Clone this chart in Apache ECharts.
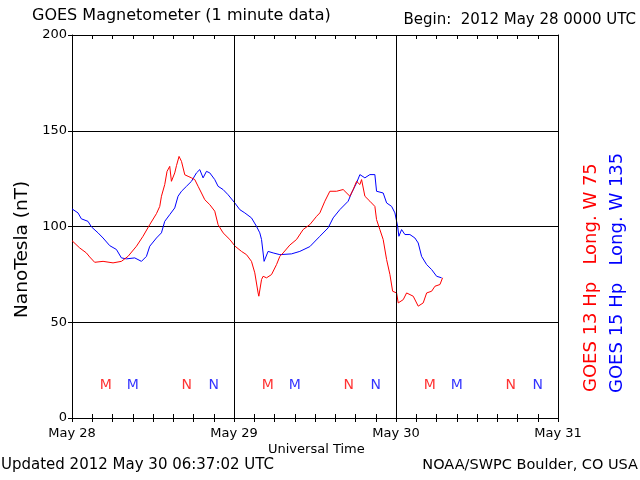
<!DOCTYPE html>
<html>
<head>
<meta charset="utf-8">
<script src="https://cdn.jsdelivr.net/npm/echarts@6/dist/echarts.min.js"></script>
<style>html,body{margin:0;padding:0;background:#fff}#c{width:640px;height:480px}</style>
</head>
<body>
<div id="c"></div>
<script>
// Hours since 2012 May 28 00:00 UTC
var dayLabels = ['May 28', 'May 29', 'May 30', 'May 31'];
var dayLines = [24, 48];
var yTicks = [0, 50, 100, 150, 200];

var goes13Hours = [0, 1.14, 2.13, 2.62, 3.36, 4.6, 6.08, 7.32, 8.3, 9.55, 10.52, 11.52, 12.51, 13.0, 13.25, 13.74, 14.08, 14.48, 14.73, 15.22, 15.48, 15.86, 16.22, 16.71, 17.2, 17.7, 18.19, 18.68, 19.18, 19.67, 20.41, 21.15, 21.64, 22.38, 23.38, 24.16, 25.11, 25.85, 26.59, 27.08, 27.57, 27.68, 28.08, 28.31, 28.82, 29.56, 30.3, 30.79, 31.28, 32.27, 33.26, 34.24, 35.24, 36.23, 36.72, 37.46, 38.2, 39.19, 40.17, 41.17, 41.66, 42.16, 42.65, 42.9, 43.39, 44.13, 44.87, 45.12, 45.61, 46.1, 46.61, 47.1, 47.5, 48.09, 48.33, 49.07, 49.57, 50.55, 51.29, 52.03, 52.54, 53.28, 53.77, 54.51, 54.9];
var goes13Values = [92.6, 88.8, 86.2, 84.1, 81.3, 81.8, 81.0, 81.8, 84.4, 89.7, 94.9, 101, 106.7, 110.5, 115.8, 121.9, 128.8, 131.4, 123.6, 128, 131.8, 136.6, 134, 127, 126.2, 125.4, 124.5, 121, 117.5, 114, 111.4, 108, 101, 96.7, 93.2, 89.7, 87, 85.3, 81.8, 75.8, 65.3, 63.6, 72.3, 74, 73.2, 74.9, 80.1, 84.4, 86.2, 90.3, 93.2, 98.4, 101, 105.3, 107.1, 113.2, 118.4, 118.4, 119.3, 115.8, 119.3, 123.6, 121.9, 124.5, 115.8, 113.2, 110.5, 103.6, 98.4, 93.2, 82.7, 74.9, 66.2, 65.3, 60.1, 61.8, 65.3, 63.6, 58.4, 60.1, 65.3, 66.2, 68.8, 69.7, 73.2];

var goes15Hours = [0, 0.89, 1.39, 2.37, 2.88, 3.85, 4.6, 5.59, 6.58, 7.32, 8.06, 9.29, 10.29, 11.03, 11.52, 12.51, 13.25, 13.74, 14.48, 15.22, 15.71, 16.22, 16.96, 17.7, 18.44, 18.93, 19.42, 19.92, 20.41, 21.15, 21.64, 22.38, 23.12, 24.12, 24.86, 25.6, 26.59, 27.33, 27.82, 28.08, 28.46, 29.05, 29.8, 30.79, 32.52, 33.75, 35.24, 36.72, 37.95, 38.69, 39.68, 40.91, 41.42, 42.16, 42.65, 43.39, 44.13, 44.87, 45.12, 46.1, 46.61, 47.35, 47.84, 48.24, 48.43, 48.83, 49.32, 50.06, 50.8, 51.29, 51.79, 52.54, 53.28, 54.02, 54.76];
var goes15Values = [109.2, 107.1, 104, 102.7, 99.8, 96.7, 94, 90, 88, 83.6, 83.1, 83.6, 81.8, 84.4, 89.7, 94, 96.7, 102.7, 106.2, 109.7, 115.8, 118.4, 121, 123.6, 128, 129.7, 125.4, 128.8, 128, 124.5, 121, 119.3, 116.6, 112.3, 108.8, 107.1, 104.5, 100.1, 96.7, 93.2, 81.8, 87, 86.2, 85.3, 85.7, 87, 89.5, 94.9, 99.3, 104.5, 108.8, 113.2, 117.5, 122.8, 127.1, 125.4, 127.1, 127.1, 118.4, 117.5, 112.3, 110.5, 107.1, 100.1, 94.9, 98.4, 95.8, 95.8, 94, 91.4, 84.4, 80.1, 77.5, 74, 73.2];

// Local midnight (M) and noon (N) marker hours
var midnight13 = [5, 29, 53];
var noon13 = [17, 41, 65];
var midnight15 = [9, 33, 57];
var noon15 = [21, 45, 69];
var markerLevel = 17;

function zip(xs, ys) { return xs.map(function (x, i) { return [x, ys[i]]; }); }
function marks(hours) { return hours.map(function (h) { return [h, markerLevel]; }); }

var RED = '#ff0000', BLUE = '#0000ff';
var FONT = 'DejaVu Sans';

var chart = echarts.init(document.getElementById('c'), null, { renderer: 'canvas' });

function markSeries(hours, text, color) {
  return {
    type: 'scatter', xAxisIndex: 0, yAxisIndex: 0, symbolSize: 0, silent: true,
    data: marks(hours),
    label: { show: true, position: 'inside', formatter: text, color: color, fontFamily: FONT, fontSize: 14 }
  };
}

var gridRect = { left: 72, right: 82, top: 35, bottom: 62 };

chart.setOption({
  animation: false,
  backgroundColor: '#fff',
  grid: [Object.assign({}, gridRect), Object.assign({}, gridRect)],
  xAxis: [
    {
      gridIndex: 0, type: 'value', min: 0, max: 72, interval: 3, position: 'bottom',
      axisLine: { show: true, lineStyle: { color: '#000', width: 1 } },
      axisTick: { show: true, inside: true, length: 4, lineStyle: { color: '#000' } },
      axisLabel: { color: '#000', fontFamily: FONT, fontSize: 13, margin: 9, showMinLabel: true, showMaxLabel: true,
        formatter: function (v) { return v % 24 === 0 ? dayLabels[Math.round(v / 24)] : ''; } },
      splitLine: { show: false }
    },
    {
      gridIndex: 0, type: 'value', min: 0, max: 72, interval: 3, position: 'top',
      axisLine: { show: true, lineStyle: { color: '#000', width: 1 } },
      axisTick: { show: true, inside: true, length: 4, lineStyle: { color: '#000' } },
      axisLabel: { show: false }, splitLine: { show: false }
    },
    {
      gridIndex: 1, type: 'value', min: 0, max: 72, interval: 3, position: 'bottom',
      axisLine: { show: false }, axisTick: { show: false }, axisLabel: { show: false }, splitLine: { show: false }
    },
    {
      gridIndex: 1, type: 'value', min: 0, max: 72, interval: 3, position: 'top',
      axisLine: { show: true, onZero: false, lineStyle: { color: '#000', width: 1 } },
      axisTick: { show: true, inside: true, length: 4, lineStyle: { color: '#000' } },
      axisLabel: { show: false }, splitLine: { show: false }
    }
  ],
  yAxis: [
    {
      gridIndex: 0, type: 'value', min: 0, max: 200, interval: 50, position: 'left',
      axisLine: { show: true, onZero: false, lineStyle: { color: '#000', width: 1 } },
      axisTick: { show: true, inside: false, length: 4, lineStyle: { color: '#000' } },
      axisLabel: { color: '#000', fontFamily: FONT, fontSize: 13, margin: 5,
        formatter: function (v) { return yTicks.indexOf(v) >= 0 ? String(v) : ''; } },
      splitLine: { show: true, lineStyle: { color: '#000', width: 1 } }
    },
    {
      gridIndex: 0, type: 'value', min: 0, max: 200, interval: 50, position: 'right',
      axisLine: { show: true, onZero: false, lineStyle: { color: '#000', width: 1 } },
      axisTick: { show: false }, axisLabel: { show: false }, splitLine: { show: false }
    },
    {
      gridIndex: 1, type: 'value', min: 0, max: 200, interval: 50, position: 'left',
      axisLine: { show: false }, axisTick: { show: false }, axisLabel: { show: false }, splitLine: { show: false }
    }
  ],
  series: [
    {
      name: 'GOES 15 Hp', type: 'line', xAxisIndex: 0, yAxisIndex: 0,
      data: zip(goes15Hours, goes15Values), showSymbol: false, symbol: 'none',
      lineStyle: { color: BLUE, width: 1 }, silent: true,
      markLine: {
        silent: true, symbol: 'none', label: { show: false },
        lineStyle: { color: '#000', width: 1, type: 'solid' },
        data: dayLines.map(function (h) { return { xAxis: h }; })
      }
    },
    {
      name: 'GOES 13 Hp', type: 'line', xAxisIndex: 1, yAxisIndex: 1,
      data: zip(goes13Hours, goes13Values), showSymbol: false, symbol: 'none',
      lineStyle: { color: RED, width: 1 }, silent: true
    },
    markSeries(midnight13, 'M', RED),
    markSeries(midnight15, 'M', BLUE),
    markSeries(noon13, 'N', RED),
    markSeries(noon15, 'N', BLUE)
  ],
  graphic: [
    { type: 'text', left: 32, top: 8, style: { text: 'GOES Magnetometer (1 minute data)', fill: '#000', font: '16px "DejaVu Sans"' } },
    { type: 'text', right: 4, top: 13, style: { text: 'Begin:  2012 May 28 0000 UTC', fill: '#000', font: '15px "DejaVu Sans"' } },
    { type: 'text', left: 268, top: 443, style: { text: 'Universal Time', fill: '#000', font: '13px "DejaVu Sans"' } },
    { type: 'text', left: 1, top: 458, style: { text: 'Updated 2012 May 30 06:37:02 UTC', fill: '#000', font: '15px "DejaVu Sans"' } },
    { type: 'text', right: 2, top: 458, style: { text: 'NOAA/SWPC Boulder, CO USA', fill: '#000', font: '14.5px "DejaVu Sans"' } },
    { type: 'text', x: 22, y: 318, rotation: Math.PI / 2, style: { text: 'NanoTesla (nT)', fill: '#000', font: '18.5px "DejaVu Sans"', textAlign: 'left', textVerticalAlign: 'middle' } },
    { type: 'text', x: 591, y: 392, rotation: Math.PI / 2, style: { text: 'GOES 13 Hp   Long. W 75', fill: RED, font: '18px "DejaVu Sans"', textAlign: 'left', textVerticalAlign: 'middle' } },
    { type: 'text', x: 617, y: 393, rotation: Math.PI / 2, style: { text: 'GOES 15 Hp   Long. W 135', fill: BLUE, font: '18px "DejaVu Sans"', textAlign: 'left', textVerticalAlign: 'middle' } }
  ]
});
</script>
</body>
</html>
